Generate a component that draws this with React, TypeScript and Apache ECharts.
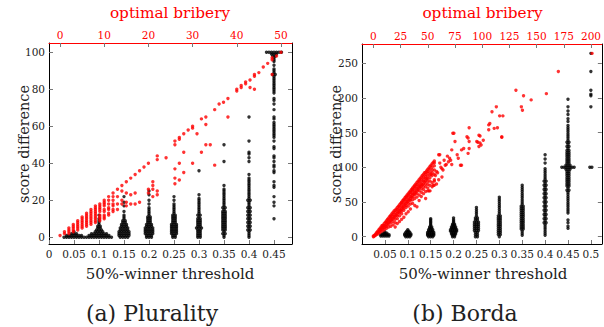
import React, { useEffect, useRef } from "react";
import * as echarts from "echarts";

// ---------- Plurality (a) ----------
const plurThresholds = [0.05, 0.1, 0.15, 0.2, 0.25, 0.3, 0.35, 0.4, 0.45];
// [score difference, number of points sharing that value] per threshold
const plurBlackCounts: [number, number][][] = [
  [[0, 9], [1, 7], [2, 3], [3, 1]],
  [[0, 11], [1, 9], [2, 7], [3, 4], [4, 3], [5, 2], [6, 2], [7, 1], [8, 1], [9, 1], [10, 1], [12, 1]],
  [[0, 4], [1, 5], [2, 5], [3, 5], [4, 4], [5, 4], [6, 3], [7, 3], [8, 2], [9, 2], [10, 1], [11, 1], [12, 1], [14, 1], [17, 1], [19, 1], [22, 1]],
  [[0, 3], [1, 3], [2, 4], [3, 4], [4, 4], [5, 4], [6, 3], [7, 3], [8, 2], [9, 2], [10, 2], [11, 2], [12, 1], [13, 1], [14, 1], [15, 1], [16, 1], [18, 1], [20, 1], [23, 1], [25, 1]],
  [[0, 2], [1, 2], [2, 3], [3, 3], [4, 3], [5, 3], [6, 3], [7, 3], [8, 2], [9, 2], [10, 2], [11, 2], [12, 2], [13, 1], [14, 1], [15, 1], [16, 1], [17, 1], [18, 1], [20, 1], [22, 1]],
  [[0, 2], [1, 2], [2, 2], [3, 2], [4, 2], [5, 3], [6, 2], [7, 2], [8, 2], [9, 2], [10, 2], [11, 1], [12, 2], [13, 1], [14, 1], [15, 1], [16, 1], [17, 1], [18, 1], [19, 1], [20, 1], [21, 1], [23, 1], [36, 1]],
  [[0, 1], [1, 1], [2, 2], [3, 1], [4, 2], [5, 2], [6, 2], [7, 2], [8, 2], [9, 2], [10, 2], [11, 2], [12, 2], [13, 2], [14, 2], [15, 1], [16, 2], [17, 1], [18, 1], [19, 1], [20, 1], [21, 1], [22, 1], [23, 1], [24, 1], [25, 1], [26, 1], [28, 1], [41, 1], [50, 1]],
  [[0, 1], [1, 1], [2, 1], [3, 1], [4, 2], [5, 1], [6, 2], [7, 1], [8, 2], [9, 1], [10, 2], [11, 1], [12, 2], [13, 1], [14, 2], [15, 1], [16, 2], [17, 1], [18, 1], [19, 1], [20, 2], [21, 1], [22, 1], [23, 1], [24, 1], [25, 1], [26, 1], [27, 1], [28, 1], [29, 1], [30, 1], [31, 1], [32, 1], [34, 1], [41, 1], [43, 1], [45, 1], [46, 1], [52, 1], [65, 1]],
  [[100, 7], [99, 3], [98, 2], [97, 1], [96, 1], [95, 1], [93, 1], [91, 1], [90, 1], [89, 1], [88, 2], [87, 1], [86, 1], [85, 1], [84, 1], [83, 1], [82, 1], [81, 1], [80, 1], [79, 1], [78, 1], [75, 1], [74, 1], [72, 1], [69, 1], [65, 1], [64, 1], [62, 1], [61, 1], [60, 1], [59, 1], [58, 1], [57, 1], [56, 1], [55, 1], [54, 1], [52, 1], [49, 1], [48, 1], [44, 1], [43, 1], [41, 1], [39, 1], [38, 1], [36, 1], [35, 1], [30, 1], [28, 1], [27, 1], [22, 1], [19, 1], [17, 1], [10, 1]],
];
// [optimal bribery, score differences observed at it]
const plurRed: [number, number[]][] = [
  [0, [1]], [1, [2, 3]], [2, [2, 3, 4, 5]], [3, [3, 4, 5, 6, 7]], [4, [4, 5, 6, 7, 8, 9]],
  [5, [5, 6, 7, 8, 9, 10, 11]], [6, [6, 7, 8, 9, 10, 11, 12, 13]], [7, [7, 8, 9, 10, 11, 12, 13, 14, 15]],
  [8, [8, 9, 10, 11, 12, 13, 14, 15, 16, 17]], [9, [9, 10, 11, 12, 14, 15, 16, 17, 18]],
  [10, [10, 11, 12, 14, 15, 17, 18, 19, 20]], [11, [12, 13, 15, 16, 18, 20, 22]],
  [12, [14, 15, 17, 18, 20, 22, 24]], [13, [15, 18, 22, 26]], [14, [18, 20, 25, 28]],
  [15, [17, 19, 24, 30]], [16, [18, 23, 32]], [17, [18, 24, 34]], [18, [19, 36]], [19, [38]],
  [20, [24, 26, 40]], [21, [22, 26, 28, 30]], [22, [23, 25, 42, 44]], [24, [43]],
  [26, [29, 32, 37, 50, 52]], [27, [31, 40, 53, 54]], [28, [35, 46, 56]], [29, [58]],
  [30, [40, 59, 60]], [31, [56]], [32, [46, 64]], [33, [50, 61, 65]], [34, [50]], [35, [39, 69]],
  [36, [72]], [37, [73]], [38, [65, 75]], [40, [79, 80]], [41, [81, 82]], [42, [83, 84]],
  [43, [81, 85]], [44, [80, 87, 88]], [45, [89]], [46, [92]], [47, [94]], [48, [88, 96, 97]],
  [49, [98]], [50, [100]],
];

// ---------- Borda (b) ----------
const bordaThresholds = [0.05, 0.1, 0.15, 0.2, 0.25, 0.3, 0.35, 0.4, 0.45, 0.5];
const bordaBlackCounts: [number, number][][] = [
  [[1, 5], [3, 5], [5, 3], [7, 1]],
  [[0, 3], [2, 4], [4, 4], [6, 3], [8, 2], [10, 1]],
  [[0, 3], [2, 4], [4, 4], [6, 4], [8, 3], [10, 3], [12, 2], [14, 2], [16, 1], [18, 1], [20, 1], [22, 1], [24, 1], [26, 1]],
  [[0, 2], [2, 2], [4, 3], [6, 3], [8, 4], [10, 4], [12, 3], [14, 3], [16, 2], [18, 2], [20, 1], [22, 1], [24, 1], [27, 1]],
  [[0, 2], [3, 2], [6, 2], [9, 3], [12, 3], [15, 3], [18, 3], [21, 3], [24, 2], [27, 2], [30, 1], [33, 1], [36, 1], [39, 1], [42, 1]],
  [[0, 1], [3, 2], [6, 2], [9, 2], [12, 2], [15, 2], [18, 2], [21, 2], [24, 2], [27, 2], [30, 2], [33, 1], [36, 1], [39, 1], [42, 1], [45, 1], [48, 1], [51, 1], [54, 1], [57, 1]],
  [[2, 1], [5, 1], [8, 1], [11, 2], [14, 2], [17, 2], [20, 2], [23, 2], [26, 2], [29, 2], [32, 2], [35, 2], [38, 2], [41, 2], [44, 2], [47, 1], [50, 1], [53, 1], [56, 1], [59, 1], [62, 1], [65, 1], [68, 1], [71, 1], [74, 1]],
  [[2, 1], [5, 1], [8, 1], [11, 1], [14, 1], [17, 1], [20, 2], [23, 1], [26, 2], [29, 1], [32, 2], [35, 1], [38, 2], [41, 1], [44, 2], [47, 1], [50, 2], [53, 1], [56, 2], [59, 1], [62, 2], [65, 1], [68, 2], [71, 1], [74, 2], [77, 1], [80, 2], [83, 1], [86, 1], [89, 1], [92, 1], [95, 1], [98, 1], [106, 1], [112, 1], [118, 1]],
  [[198, 1], [187, 1], [181, 1], [176, 1], [170, 1], [166, 1], [160, 1], [157, 1], [154, 1], [151, 1], [148, 1], [145, 1], [142, 1], [139, 1], [136, 2], [133, 1], [130, 2], [127, 1], [124, 2], [121, 2], [118, 2], [115, 2], [112, 2], [109, 2], [106, 2], [103, 3], [100, 7], [97, 3], [94, 2], [91, 2], [88, 2], [85, 2], [82, 2], [79, 2], [76, 2], [73, 2], [70, 1], [67, 2], [64, 1], [61, 1], [58, 1], [55, 1], [52, 1], [49, 1], [46, 1], [43, 1], [40, 1], [37, 1], [34, 1], [24, 1], [20, 1], [15, 1], [12, 1]],
  [[264, 1], [238, 1], [211, 1], [205, 1], [203, 1], [187, 1], [100, 2]],
];
const bordaRed: [number, number[]][] = [
  [0, [0, 1]], [1, [1, 2]], [2, [2, 4]], [3, [4, 6]], [4, [4, 6, 8]], [5, [7, 10]], [6, [6, 8, 10, 12]],
  [7, [10, 14]], [8, [8, 11, 14, 16]], [9, [13, 17]], [10, [10, 13, 16, 19]], [11, [15, 21]],
  [12, [12, 15, 18, 21, 23]], [13, [19, 25]], [14, [14, 18, 21, 24, 27]], [15, [22, 29]],
  [16, [15, 20, 24, 27, 29, 31]], [17, [25, 33]], [18, [17, 22, 26, 29, 32, 35]], [19, [28, 37]],
  [20, [14, 20, 25, 29, 32, 35, 38]], [21, [31, 40]],
  [22, [19, 26, 30, 33, 36, 39, 42]], [23, [35, 44]], [24, [22, 30, 34, 37, 40, 43, 46]], [25, [38, 48]],
  [26, [25, 33, 37, 40, 43, 46, 49, 50]], [27, [42, 52]], [28, [28, 38, 41, 44, 47, 50, 53, 54]], [29, [46, 56]],
  [30, [33, 42, 45, 48, 51, 54, 57, 58]], [31, [50, 60]], [32, [36, 44, 48, 51, 54, 57, 60, 62]], [33, [53, 64]],
  [34, [40, 47, 52, 55, 58, 61, 64, 66]], [35, [57, 68]], [36, [48, 53, 57, 60, 63, 66, 68, 70]], [37, [61, 72]],
  [38, [45, 55, 60, 63, 66, 69, 72, 74]], [39, [64, 76]], [40, [43, 57, 62, 66, 69, 72, 75, 78]], [41, [68, 80]],
  [42, [52, 60, 66, 70, 73, 76, 79, 82]], [43, [72, 84]], [44, [58, 64, 69, 73, 76, 79, 82, 86]], [45, [75, 88]],
  [46, [62, 68, 72, 76, 80, 83, 86, 90]], [47, [79, 92]], [48, [55, 65, 72, 76, 80, 84, 87, 90, 93]], [49, [83, 95]],
  [50, [66, 70, 75, 79, 83, 87, 91, 94, 97]], [51, [66, 99]], [52, [66, 74, 80, 85, 89, 93, 97, 101]], [53, [90, 103]],
  [54, [72, 78, 88, 92, 96, 100, 105]], [55, [74, 107]], [56, [74, 80, 82, 90, 96, 102, 106, 109]],
  [57, [88]], [58, [76, 94]], [59, [92]], [60, [82, 118]], [61, [106, 118]], [62, [100]],
  [63, [86, 98]], [64, [96]], [65, [110]], [66, [103]], [67, [104]], [68, [116]], [69, [108]],
  [70, [113]], [71, [110]], [72, [104, 125]], [73, [149]], [74, [149]], [75, [137]],
  [77, [118]], [78, [113]], [80, [103]], [81, [103, 125]], [83, [127]], [86, [144]],
  [87, [120, 142]], [88, [127, 137, 157]], [95, [137]], [96, [136]], [97, [130, 146]],
  [98, [135, 145]], [99, [132]], [101, [139]], [106, [154, 161]], [107, [163]], [109, [180]],
  [111, [156]], [113, [187]], [114, [157]], [116, [174]], [118, [143, 144]], [119, [174]],
  [131, [211]], [136, [187]], [137, [182]], [138, [203]], [145, [197]], [159, [206]],
  [170, [238]], [201, [264]],
];

// tick labels
const plurXTicks = [0, 0.05, 0.1, 0.15, 0.2, 0.25, 0.3, 0.35, 0.4, 0.45];
const plurTopTicks = [0, 10, 20, 30, 40, 50];
const plurYTicks = [0, 20, 40, 60, 80, 100];
const bordaXTicks = [0.05, 0.1, 0.15, 0.2, 0.25, 0.3, 0.35, 0.4, 0.45, 0.5];
const bordaTopTicks = [0, 25, 50, 75, 100, 125, 150, 175, 200];
const bordaYTicks = [0, 50, 100, 150, 200, 250];

function swarm(ths: number[], counts: [number, number][][], dx: number) {
  const pts: number[][] = [];
  ths.forEach((t, i) =>
    counts[i].forEach(([s, n]) => {
      for (let k = 0; k < n; k++) pts.push([t + (k - (n - 1) / 2) * dx, s]);
    })
  );
  return pts;
}
function columns(cols: [number, number[]][]) {
  const pts: number[][] = [];
  cols.forEach(([b, ss]) => ss.forEach((s) => pts.push([b, s])));
  return pts;
}

const SERIF = "DejaVu Serif";
const RED = "#ff0000";
const TICK_FS = 10.5;
const NAME_FS = 15;

function xAxis(grid: number, pos: "top" | "bottom", min: number, max: number, ticks: number[], red: boolean) {
  return {
    type: "value",
    gridIndex: grid,
    position: pos,
    min,
    max,
    axisLine: { show: true, onZero: false, lineStyle: { color: red ? RED : "#000", width: 1 } },
    axisTick: { show: true, inside: true, length: 4, customValues: ticks, lineStyle: { color: "#777" } },
    axisLabel: {
      show: true,
      customValues: ticks,
      margin: pos === "top" ? 3 : 4,
      fontFamily: SERIF,
      fontSize: TICK_FS,
      color: red ? RED : "#222",
      formatter: (v: number) => String(v),
    },
    splitLine: { show: false },
  };
}
function yAxis(grid: number, pos: "left" | "right", min: number, max: number, ticks: number[]) {
  return {
    type: "value",
    gridIndex: grid,
    position: pos,
    min,
    max,
    axisLine: { show: true, onZero: false, lineStyle: { color: "#000", width: 1 } },
    axisTick: { show: true, inside: true, length: 4, customValues: ticks, lineStyle: { color: "#777" } },
    axisLabel: {
      show: pos === "left",
      customValues: ticks,
      margin: 4,
      fontFamily: SERIF,
      fontSize: TICK_FS,
      color: "#222",
    },
    splitLine: { show: false },
  };
}

function txt(text: string, x: number, y: number, size: number, color = "#222", rotation = 0) {
  return {
    type: "text",
    x,
    y,
    rotation,
    silent: true,
    style: {
      text,
      fill: color,
      fontFamily: SERIF,
      fontSize: size,
      textAlign: "center",
      align: "center",
      textVerticalAlign: "middle",
      verticalAlign: "middle",
    },
  };
}

export default function App() {
  const ref = useRef<HTMLDivElement>(null);
  useEffect(() => {
    if (!ref.current) return;
    const chart = echarts.init(ref.current, null, { renderer: "svg" });
    const sym = 3.4;
    chart.setOption({
      animation: false,
      backgroundColor: "#fff",
      textStyle: { fontFamily: SERIF },
      grid: [
        { left: 49, top: 43, width: 243, height: 201 },
        { left: 362, top: 44, width: 241, height: 200 },
      ],
      xAxis: [
        xAxis(0, "bottom", 0, 0.486, plurXTicks, false),
        xAxis(0, "top", -2.5, 52.5, plurTopTicks, true),
        xAxis(1, "bottom", 0, 0.524, bordaXTicks, false),
        xAxis(1, "top", -10.5, 210, bordaTopTicks, true),
      ],
      yAxis: [
        yAxis(0, "left", -3.6, 105, plurYTicks),
        yAxis(0, "right", -3.6, 105, plurYTicks),
        yAxis(1, "left", -10.5, 277.5, bordaYTicks),
        yAxis(1, "right", -10.5, 277.5, bordaYTicks),
      ],
      series: [
        {
          type: "scatter", xAxisIndex: 0, yAxisIndex: 0, symbolSize: sym,
          itemStyle: { color: "#000" }, data: swarm(plurThresholds, plurBlackCounts, 0.005),
        },
        {
          type: "scatter", xAxisIndex: 1, yAxisIndex: 0, symbolSize: sym,
          itemStyle: { color: RED }, data: columns(plurRed),
        },
        {
          type: "scatter", xAxisIndex: 2, yAxisIndex: 2, symbolSize: sym,
          itemStyle: { color: "#000" }, data: swarm(bordaThresholds, bordaBlackCounts, 0.0045),
        },
        {
          type: "scatter", xAxisIndex: 3, yAxisIndex: 2, symbolSize: sym,
          itemStyle: { color: RED }, data: columns(bordaRed),
        },
      ],
      graphic: [
        txt("optimal bribery", 170, 13, NAME_FS + 0.3, RED),
        txt("optimal bribery", 482.5, 13, NAME_FS + 0.3, RED),
        txt("score difference", 24, 144, NAME_FS - 0.6, "#222", Math.PI / 2),
        txt("score difference", 335.5, 144, NAME_FS - 0.6, "#222", Math.PI / 2),
        txt("50%-winner threshold", 170, 273.5, NAME_FS),
        txt("50%-winner threshold", 483, 273.5, NAME_FS),
        txt("(a) Plurality", 152, 313, 22),
        txt("(b) Borda", 465, 313, 22),
      ],
    });
    return () => chart.dispose();
  }, []);
  return (
    <div
      ref={ref}
      style={{ position: "absolute", left: 0, top: 0, width: 604, height: 327, background: "#fff" }}
    />
  );
}
